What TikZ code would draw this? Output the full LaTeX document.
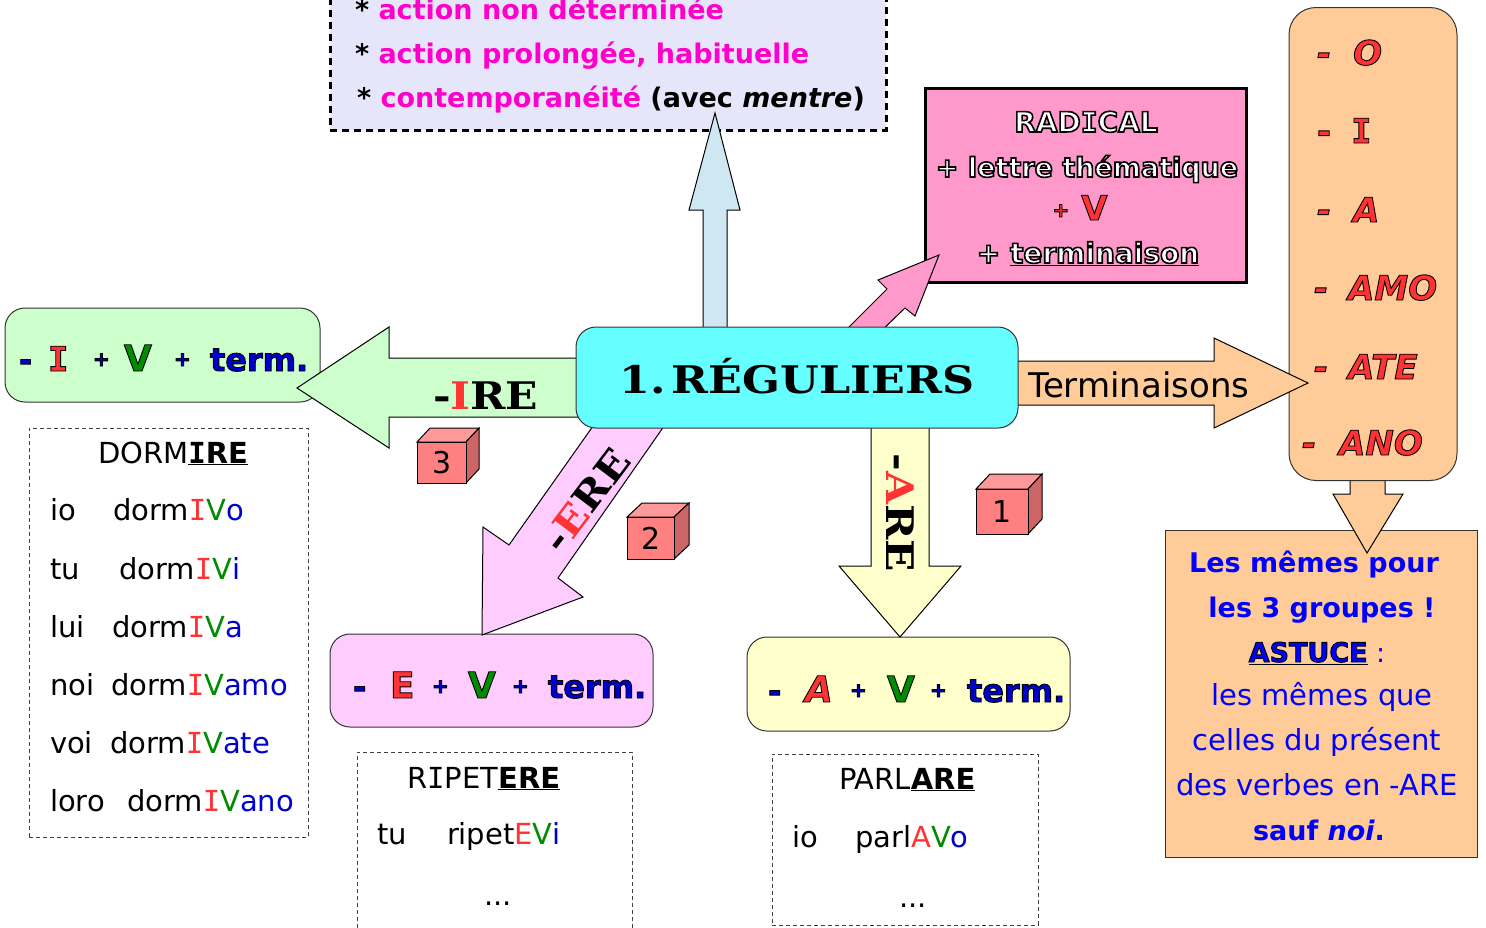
\documentclass[tikz,border=0pt]{standalone}
\usepackage{fontspec}
\usepackage{graphicx}
\setmainfont{DejaVu Sans}
\newfontfamily\cooper{DejaVu Serif}
\newfontfamily\monoI{DejaVu Sans Mono}
\newcommand\Ibar{{\monoI I}}
\definecolor{lav}{RGB}{230,230,250}
\definecolor{mag}{RGB}{255,0,204}
\definecolor{skyb}{RGB}{207,230,243}
\definecolor{radpink}{RGB}{255,153,204}
\definecolor{peach}{RGB}{255,204,153}
\definecolor{cyanb}{RGB}{102,255,255}
\definecolor{lgreen}{RGB}{204,255,204}
\definecolor{lpink}{RGB}{255,204,255}
\definecolor{lyellow}{RGB}{255,255,204}
\definecolor{rd}{RGB}{255,51,51}
\definecolor{gr}{RGB}{0,140,0}
\definecolor{bl}{RGB}{0,0,204}
\definecolor{blu}{RGB}{0,0,255}
\definecolor{cubefront}{RGB}{255,128,128}
\definecolor{cubetop}{RGB}{255,153,153}
\definecolor{cubeside}{RGB}{204,102,102}
\newcommand\fs[1]{\fontsize{#1}{#1}\selectfont}
% coloured text with a thin dark outline (no duplicated text)
\newcommand\sh[3][0.9]{{\color{#2}\special{pdf:literal direct 2 Tr #1 w 0 0 0 RG}#3\special{pdf:literal direct 0 Tr}}}
\newcommand\cubeat[8]{%
  \filldraw[fill=cubetop,line width=1] (#2,#3) -- ++(#6,-#7) -- ++(#4,0) -- ++(-#6,#7) -- cycle;
  \filldraw[fill=cubeside,line width=1] ({#2+#4},#3) -- ++(#6,-#7) -- ++(0,#5) -- ++(-#6,#7) -- cycle;
  \node[draw,line width=1,fill=cubefront,minimum width=#4,minimum height=#5,inner sep=0,anchor=north west] (#1) at (#2,#3) {\fs{30}#8};}
\begin{document}
\begin{tikzpicture}[x=1pt,y=-1pt,
  txt/.style={anchor=base west,inner sep=0,outer sep=0},
  ctxt/.style={anchor=base,inner sep=0,outer sep=0},
  box/.style={draw=black!80,line width=1,inner sep=0,outer sep=0},
  rbox/.style={box,rounded corners=20},
  dbox/.style={draw=black!75,line width=1,dash pattern=on 4pt off 3pt,inner sep=0,outer sep=0},
  blk/.style={draw=black,line width=1,line join=miter},
  coop/.style={inner sep=0,outer sep=0,font=\fs{38}\cooper\bfseries}]
\useasboundingbox (0,0) rectangle (1486,927);
\fill[white] (0,0) rectangle (1486,927);

% ---------- boxes ----------
\node[draw=black,line width=3,dash pattern=on 7pt off 5pt,fill=lav,minimum width=556,minimum height=140,inner sep=0] (topb) at (608,60) {};
\node[box,draw=black,line width=3,fill=radpink,minimum width=321,minimum height=194] (rad) at (1085.5,185) {};
\node[box,fill=peach,minimum width=312,minimum height=327] (memes) at (1321,693.5) {};
\draw[blk,fill=peach] (1350,470) -- (1350,494) -- (1333,494) -- (1367,553) -- (1403,494) -- (1385,494) -- (1385,470) -- cycle;
\node[box,fill=peach,rounded corners=27,minimum width=168,minimum height=473] (endings) at (1373,244) {};
\node[rbox,fill=lgreen,minimum width=315,minimum height=94] (ibox) at (162.5,355) {};
\node[rbox,fill=lpink,minimum width=323,minimum height=93] (ebox) at (491.5,680.5) {};
\node[rbox,fill=lyellow,minimum width=323,minimum height=94] (abox) at (908.5,684) {};
\node[dbox,minimum width=279,minimum height=409] (dorm) at (168.5,632.5) {};
\node[dbox,minimum width=275,minimum height=188] (ripet) at (494.5,846) {};
\node[dbox,minimum width=266,minimum height=171] (parl) at (905,839.5) {};

% ---------- block arrows ----------
\draw[blk,fill=skyb] (703,340) -- (703,210) -- (689,210) -- (715,113) -- (740,210) -- (727,210) -- (727,340) -- cycle;
\draw[blk,fill=radpink] (841,335) -- (887,289) -- (878,280) -- (939,255) -- (915,316) -- (905,308) -- (877,335) -- cycle;
\draw[blk,fill=peach] (1010,361) -- (1214,361) -- (1214,338) -- (1308,383) -- (1214,428) -- (1214,405) -- (1010,405) -- cycle;
\draw[blk,fill=lgreen] (585,358) -- (389,358) -- (389,327) -- (297,388) -- (389,448) -- (389,417) -- (585,417) -- cycle;
\draw[blk,fill=lpink] (598,419) -- (509,545) -- (483,527) -- (482,635) -- (583,597) -- (558,578) -- (669,419) -- cycle;
\draw[blk,fill=lyellow] (871,420) -- (871,566) -- (839,566) -- (900,637) -- (961,566) -- (929,566) -- (929,420) -- cycle;

\node[box,fill=cyanb,rounded corners=20,minimum width=442,minimum height=101] (central) at (797,377.5) {};

% ---------- top box text ----------
\node[txt] (l1) at (355,19) {\fs{27}\bfseries *\ \textcolor{mag}{action non déterminée}};
\node[txt] (l2) at (355,63) {\fs{27}\bfseries *\ \textcolor{mag}{action prolongée, habituelle}};
\node[txt] (l3) at (357,107) {\fs{27}\bfseries *\ \textcolor{mag}{contemporanéité} (avec \textit{mentre})};

% ---------- radical ----------
\node[ctxt] (r1) at (1086,132) {\fs{28}\bfseries\sh[1.6]{white}{RAD\Ibar CAL}};
\node[ctxt] (r2) at (1087,177) {\fs{27}\bfseries\sh[1.6]{white}{+ lettre thématique}};
\node[ctxt] (r3) at (1080,220) {\bfseries\raisebox{3pt}{\fs{20}\sh{rd}{+}}\hspace{12pt}\fs{34}\sh{rd}{V}};
\node[ctxt] (r4) at (1088,263) {\fs{28}\bfseries\sh[1.6]{white}{+ \underline{terminaison}}};

% ---------- endings column ----------
\node[txt] (e1) at (1317,65) {\fs{34}\bfseries\itshape\sh{rd}{-\hspace{22pt}O}};
\node[txt] (e2) at (1317,143) {\fs{34}\bfseries\sh{rd}{-\hspace{20pt}\Ibar}};
\node[txt] (e3) at (1317,222) {\fs{34}\bfseries\itshape\sh{rd}{-\hspace{22pt}A}};
\node[txt] (e4) at (1314,300) {\fs{34}\bfseries\itshape\sh{rd}{-\hspace{20pt}AMO}};
\node[txt] (e5) at (1314,379) {\fs{34}\bfseries\itshape\sh{rd}{-\hspace{20pt}ATE}};
\node[txt] (e6) at (1302,455) {\fs{34}\bfseries\itshape\sh{rd}{-\hspace{23pt}ANO}};

% ---------- les memes ----------
\node[ctxt] (m1) at (1314,572) {\fs{27}\bfseries\color{blu}Les mêmes pour};
\node[ctxt] (m2) at (1322,617) {\fs{27}\bfseries\color{blu}les 3 groupes !};
\node[ctxt] (m3) at (1317,662) {\fs{27}\bfseries\sh{blu}{\underline{ASTUCE}}\mdseries\textcolor{blu}{\ :}};
\node[ctxt] (m4) at (1322,705) {\fs{29}\color{blu}les mêmes que};
\node[ctxt] (m5) at (1317,750) {\fs{29}\color{blu}celles du présent};
\node[ctxt] (m6) at (1317,795) {\fs{29}\color{blu}des verbes en -ARE};
\node[ctxt] (m7) at (1319,840) {\fs{27}\bfseries\color{blu}sauf \textit{noi}.};

% ---------- central & arrow labels ----------
\node[ctxt] (ctitle) at (797,393) {\fs{38}\cooper\bfseries\scalebox{1.17}[1]{1.\hspace{5pt}RÉGULIERS}};
\node[txt] (term) at (1028,397) {\fs{34}Terminaisons};
\node[coop,anchor=base west] (ire) at (433,409) {\scalebox{1.12}[1]{-\textcolor{rd}{I}RE}};
\node[coop,rotate=53] (ere) at (586,500) {\scalebox{1.12}[1]{-\textcolor{rd}{E}RE}};
\node[coop,rotate=-90] (are) at (900,513) {\scalebox{1.12}[1]{-\textcolor{rd}{A}RE}};

% ---------- term boxes ----------
\node[txt] (i1) at (19,371) {\fs{32}\bfseries\sh{bl}{-}};
\node[txt] (i2) at (48,371) {\fs{34}\bfseries\sh{rd}{\Ibar}};
\node[txt] (i3) at (93,366) {\fs{20}\bfseries\sh{bl}{+}};
\node[txt] (i4) at (124,371) {\fs{36}\bfseries\sh{gr}{V}};
\node[txt] (i5) at (174,366) {\fs{20}\bfseries\sh{bl}{+}};
\node[txt] (i6) at (210,371) {\fs{32}\bfseries\sh{bl}{term.}};

\node[txt] (p1) at (353,698) {\fs{32}\bfseries\sh{bl}{-}};
\node[txt] (p2) at (390,698) {\fs{36}\bfseries\sh{rd}{E}};
\node[txt] (p3) at (432,693) {\fs{20}\bfseries\sh{bl}{+}};
\node[txt] (p4) at (468,698) {\fs{36}\bfseries\sh{gr}{V}};
\node[txt] (p5) at (512,693) {\fs{20}\bfseries\sh{bl}{+}};
\node[txt] (p6) at (548,698) {\fs{32}\bfseries\sh{bl}{term.}};

\node[txt] (y1) at (768,702) {\fs{32}\bfseries\sh{bl}{-}};
\node[txt] (y2) at (805,702) {\fs{36}\bfseries\itshape\sh{rd}{A}};
\node[txt] (y3) at (850,697) {\fs{20}\bfseries\sh{bl}{+}};
\node[txt] (y4) at (887,702) {\fs{36}\bfseries\sh{gr}{V}};
\node[txt] (y5) at (930,697) {\fs{20}\bfseries\sh{bl}{+}};
\node[txt] (y6) at (967,702) {\fs{32}\bfseries\sh{bl}{term.}};

% ---------- conjugation tables ----------
\node[txt] (dt) at (98,463) {\fs{29}DORM\textbf{\underline{\Ibar RE}}};
\node[txt] (d1a) at (50,520) {\fs{29}io};
\node[txt] (d1b) at (113,520) {\fs{29}dorm\textcolor{rd}{\Ibar}\textcolor{gr}{V}\textcolor{bl}{o}};
\node[txt] (d2a) at (50,579) {\fs{29}tu};
\node[txt] (d2b) at (119,579) {\fs{29}dorm\textcolor{rd}{\Ibar}\textcolor{gr}{V}\textcolor{bl}{i}};
\node[txt] (d3a) at (50,637) {\fs{29}lui};
\node[txt] (d3b) at (112,637) {\fs{29}dorm\textcolor{rd}{\Ibar}\textcolor{gr}{V}\textcolor{bl}{a}};
\node[txt] (d4a) at (50,695) {\fs{29}noi};
\node[txt] (d4b) at (111,695) {\fs{29}dorm\textcolor{rd}{\Ibar}\textcolor{gr}{V}\textcolor{bl}{amo}};
\node[txt] (d5a) at (50,753) {\fs{29}voi};
\node[txt] (d5b) at (110,753) {\fs{29}dorm\textcolor{rd}{\Ibar}\textcolor{gr}{V}\textcolor{bl}{ate}};
\node[txt] (d6a) at (50,811) {\fs{29}loro};
\node[txt] (d6b) at (127,811) {\fs{29}dorm\textcolor{rd}{\Ibar}\textcolor{gr}{V}\textcolor{bl}{ano}};

\node[txt] (rt) at (407,788) {\fs{29}R\Ibar PET\textbf{\underline{ERE}}};
\node[txt] (r1a) at (377,844) {\fs{29}tu};
\node[txt] (r1b) at (447,844) {\fs{29}ripet\textcolor{rd}{E}\textcolor{gr}{V}\textcolor{bl}{i}};
\node[ctxt] (rdots) at (498,905) {\fs{29}...};

\node[txt] (pt) at (839,789) {\fs{29}PARL\textbf{\underline{ARE}}};
\node[txt] (p1a) at (792,847) {\fs{29}io};
\node[txt] (p1b) at (855,847) {\fs{29}parl\textcolor{rd}{A}\textcolor{gr}{V}\textcolor{bl}{o}};
\node[ctxt] (pdots) at (913,907) {\fs{29}...};

% ---------- cubes ----------
\cubeat{c3}{417}{442}{49}{41}{13}{14}{3}
\cubeat{c2}{627}{517}{47}{42}{15}{14}{2}
\cubeat{c1}{976}{489}{52}{45}{14}{15}{1}
\end{tikzpicture}
\end{document}
